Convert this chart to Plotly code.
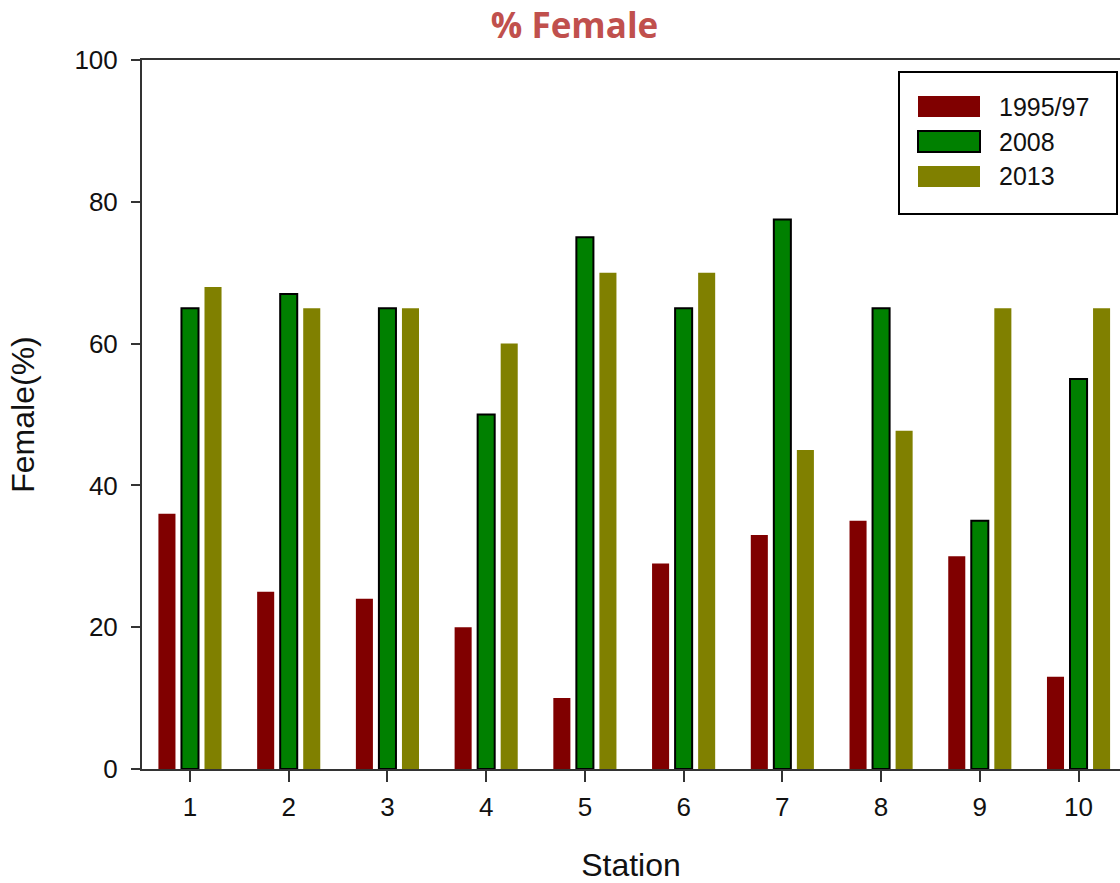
import plotly.graph_objects as go

stations = [1, 2, 3, 4, 5, 6, 7, 8, 9, 10]
female_1995_97 = [36, 25, 24, 20, 10, 29, 33, 35, 30, 13]
female_2008 = [65, 67, 65, 50, 75, 65, 77.5, 65, 35, 55]
female_2013 = [68, 65, 65, 60, 70, 70, 45, 47.7, 65, 65]

series_names = ["1995/97", "2008", "2013"]
series_values = [female_1995_97, female_2008, female_2013]
series_colors = ["#800000", "#008000", "#808000"]
series_outline = [0, 2, 0]

W, H = 1120, 883
M_L, M_R, M_T, M_B = 142, 0, 60, 114

fig = go.Figure()
for name, vals, color, lw in zip(series_names, series_values, series_colors, series_outline):
    fig.add_trace(go.Bar(
        x=stations, y=vals, name=name, showlegend=False,
        marker=dict(color=color, line=dict(color="#000000", width=lw)),
    ))


def px_x(px):
    return (px - M_L) / (W - M_L - M_R)


def px_y(py):
    return (H - M_B - py) / (H - M_T - M_B)


# Boxed legend with wide colour swatches
shapes = [dict(type="rect", xref="paper", yref="paper",
               x0=px_x(899), x1=px_x(1117), y0=px_y(214), y1=px_y(72),
               line=dict(color="#000000", width=2), fillcolor="white", layer="above")]
annotations = []
row_top = 96
for i, (name, color, lw) in enumerate(zip(series_names, series_colors, series_outline)):
    top = row_top + i * 35
    shapes.append(dict(type="rect", xref="paper", yref="paper",
                       x0=px_x(918), x1=px_x(980), y0=px_y(top + 21), y1=px_y(top),
                       line=dict(color="#000000", width=lw if lw else 0),
                       fillcolor=color, layer="above"))
    annotations.append(dict(xref="paper", yref="paper", x=px_x(997), y=px_y(top + 10.5),
                            text=name, showarrow=False, xanchor="left", yanchor="middle",
                            font=dict(family="Liberation Sans, Arial, sans-serif", size=25, color="#111111")))

axis_font = dict(family="Liberation Sans, Arial, sans-serif", size=26, color="#111111")
title_font = dict(family="Liberation Sans, Arial, sans-serif", size=32, color="#111111")

fig.update_layout(
    width=W, height=H,
    margin=dict(l=M_L, r=M_R, t=M_T, b=M_B),
    paper_bgcolor="white", plot_bgcolor="white",
    barmode="group", bargap=0.30, bargroupgap=0.26,
    title=dict(
        text="<b>% Female</b>",
        font=dict(family="Open Sans, sans-serif", size=35, color="#C0504D"),
        x=0.513, xanchor="center", y=0.971, yanchor="middle",
    ),
    shapes=shapes,
    annotations=annotations,
    font=axis_font,
)

fig.update_xaxes(
    range=[0.514, 10.42],
    tickmode="array", tickvals=stations, ticktext=[str(s) for s in stations],
    ticks="outside", ticklen=11, tickwidth=2, tickcolor="#333333",
    showline=True, linecolor="#333333", linewidth=2, mirror=True,
    showgrid=False, zeroline=False,
    tickfont=axis_font, ticklabelstandoff=3,
    title=dict(text="Station", font=title_font, standoff=36),
)
fig.update_yaxes(
    range=[0, 100],
    tickmode="array", tickvals=[0, 20, 40, 60, 80, 100],
    ticks="outside", ticklen=9, tickwidth=2, tickcolor="#333333",
    showline=True, linecolor="#333333", linewidth=2, mirror=False,
    showgrid=False, zeroline=False,
    tickfont=axis_font, ticklabelstandoff=8,
    title=dict(text="Female(%)", font=title_font, standoff=30),
)

fig.write_html("out.html")
